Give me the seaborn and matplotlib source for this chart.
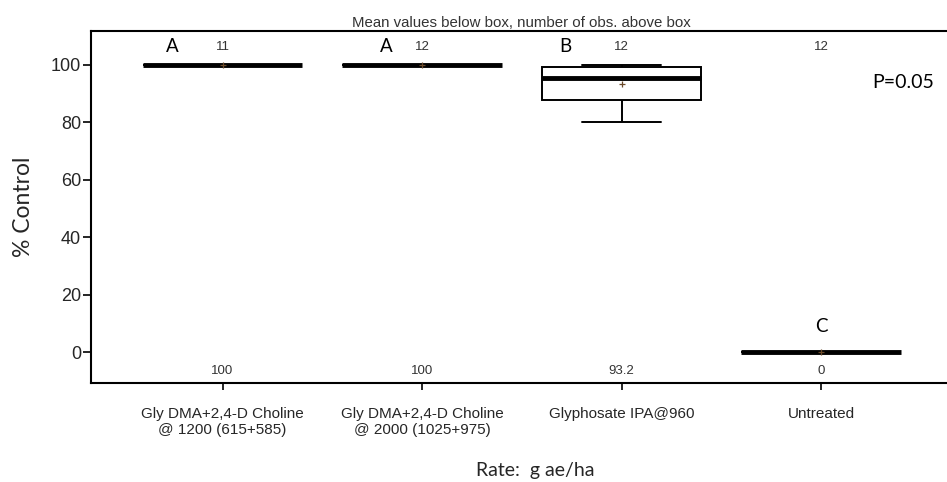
import numpy as np
import pandas as pd
import matplotlib
matplotlib.use("Agg")
import matplotlib.pyplot as plt
import seaborn as sns

# ---- data ----
treatments = [
    "Gly DMA+2,4-D Choline\n@ 1200 (615+585)",
    "Gly DMA+2,4-D Choline\n@ 2000 (1025+975)",
    "Glyphosate IPA@960",
    "Untreated",
]
obs_gly1200 = [100] * 11
obs_gly2000 = [100] * 12
obs_glyipa = [80, 83.4, 87, 88, 92, 95, 96, 98, 99, 100, 100, 100]
obs_untreated = [0] * 12
letters = ["A", "A", "B", "C"]
letter_dx = [-0.25, -0.18, -0.28, 0.0]
letter_y = [106.3, 106.3, 106.3, 8.8]

groups = [obs_gly1200, obs_gly2000, obs_glyipa, obs_untreated]
df = pd.DataFrame({
    "Treatment": np.repeat(treatments, [len(g) for g in groups]),
    "Control": np.concatenate(groups),
})

sns.set_theme(style="white")
plt.rcParams["font.family"] = ["Liberation Sans", "DejaVu Sans"]

fig = plt.figure(figsize=(9.47, 4.82), dpi=100)
ax = fig.add_axes([0.096, 0.205, 0.91, 0.731])

sns.boxplot(data=df, x="Treatment", y="Control", order=treatments, ax=ax,
            width=0.8, color="white", linecolor="black", linewidth=1.4,
            showmeans=True, fliersize=0,
            medianprops={"linewidth": 3.5, "color": "black"},
            meanprops={"marker": "+", "markersize": 5, "markeredgecolor": "#6b4a2a",
                       "markeredgewidth": 0.9})

# counts above / means below
for i, g in enumerate(groups):
    ax.text(i, 106.3, str(len(g)), ha="center", va="center", fontsize=9.5, color="#333333")
    m = np.mean(g)
    lab = f"{m:.1f}".rstrip("0").rstrip(".")
    ax.text(i, -6.6, lab, ha="center", va="center", fontsize=9.5, color="#333333")
    ax.text(i + letter_dx[i], letter_y[i], letters[i], ha="center", va="center",
            fontsize=13.5, family=["Lato", "DejaVu Sans"], color="black")

ax.text(3.41, 94, "P=0.05", ha="center", va="center", fontsize=14,
        family=["Lato", "DejaVu Sans"], color="black")

ax.set_xlim(-0.66, 3.66)
ax.set_ylim(-10.8, 111.8)
ax.set_yticks([0, 20, 40, 60, 80, 100])
ax.set_title("Mean values below box, number of obs. above box", fontsize=10.8,
             color="#333333", pad=3)
ax.set_ylabel("% Control", fontsize=16.5, family=["Lato", "DejaVu Sans"])
ax.yaxis.set_label_coords(-0.066, 0.5)
ax.set_xlabel("Rate:  g ae/ha", fontsize=14, family=["Lato", "DejaVu Sans"])
ax.xaxis.set_label_coords(0.516, -0.225)

for s in ["left", "top", "bottom"]:
    ax.spines[s].set_color("black")
    ax.spines[s].set_linewidth(1.5)
ax.spines["right"].set_visible(False)
ax.tick_params(axis="y", which="major", left=True, length=6, width=1.2, pad=1,
               labelsize=13, color="black")
ax.tick_params(axis="x", which="major", bottom=True, length=5, width=1.2, pad=12,
               labelsize=11, color="black")

fig.savefig("out.png", dpi=100)
